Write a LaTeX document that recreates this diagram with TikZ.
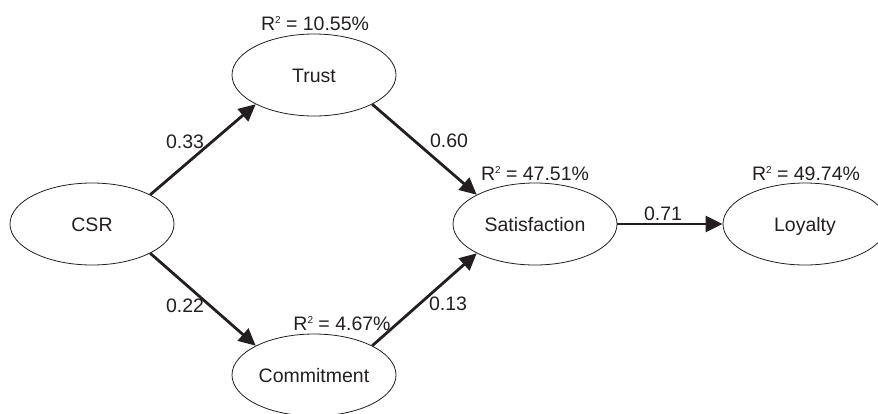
\documentclass[tikz,border=0pt]{standalone}
\usepackage{fontspec}
\setmainfont{Liberation Sans}
\usetikzlibrary{shapes.geometric,arrows.meta}
\definecolor{ink}{HTML}{231F20}
\newcommand{\rsq}{R\raisebox{6.5pt}{\fontsize{10}{10}\selectfont 2}}
\begin{document}
\begin{tikzpicture}[x=1pt,y=-1pt,
  construct/.style={ellipse,draw=ink,line width=0.8pt,minimum width=164pt,minimum height=82pt,inner sep=0pt,
    text=ink,font=\fontsize{19.5}{22}\selectfont,text height=14pt,text depth=0pt},
  lbl/.style={inner sep=0pt,text=ink,font=\fontsize{19.5}{22}\selectfont,text height=14pt,text depth=0pt},
  path/.style={draw=ink,line width=2.8pt,-{Triangle[length=17pt,width=16pt]}}]
\useasboundingbox (0,0) rectangle (878,413);
\clip (0,0) rectangle (878,413);
\node[construct] (csr) at (92,224) {CSR};
\node[construct] (trust) at (314,75) {Trust};
\node[construct] (sat) at (535,224) {Satisfaction};
\node[construct] (loy) at (805,224) {Loyalty};
\node[construct] (com) at (314,375) {Commitment};
\draw[path] (csr.north east) -- (trust.south west);
\draw[path] (trust.south east) -- (sat.north west);
\draw[path] (csr.south east) -- (com.north west);
\draw[path] (com.north east) -- (sat.south west);
\draw[path] (sat.east) -- (loy.west);
\node[lbl] (r1) at (315,23) {\rsq{} = 10.55\%};
\node[lbl] (r2) at (535,173) {\rsq{} = 47.51\%};
\node[lbl] (r3) at (806,173) {\rsq{} = 49.74\%};
\node[lbl] (r4) at (342,323) {\rsq{} = 4.67\%};
\node[lbl] (p1) at (185,141) {0.33};
\node[lbl] (p2) at (449,140) {0.60};
\node[lbl] (p3) at (185,305) {0.22};
\node[lbl] (p4) at (448,303) {0.13};
\node[lbl] (p5) at (663,213) {0.71};
\end{tikzpicture}
\end{document}
